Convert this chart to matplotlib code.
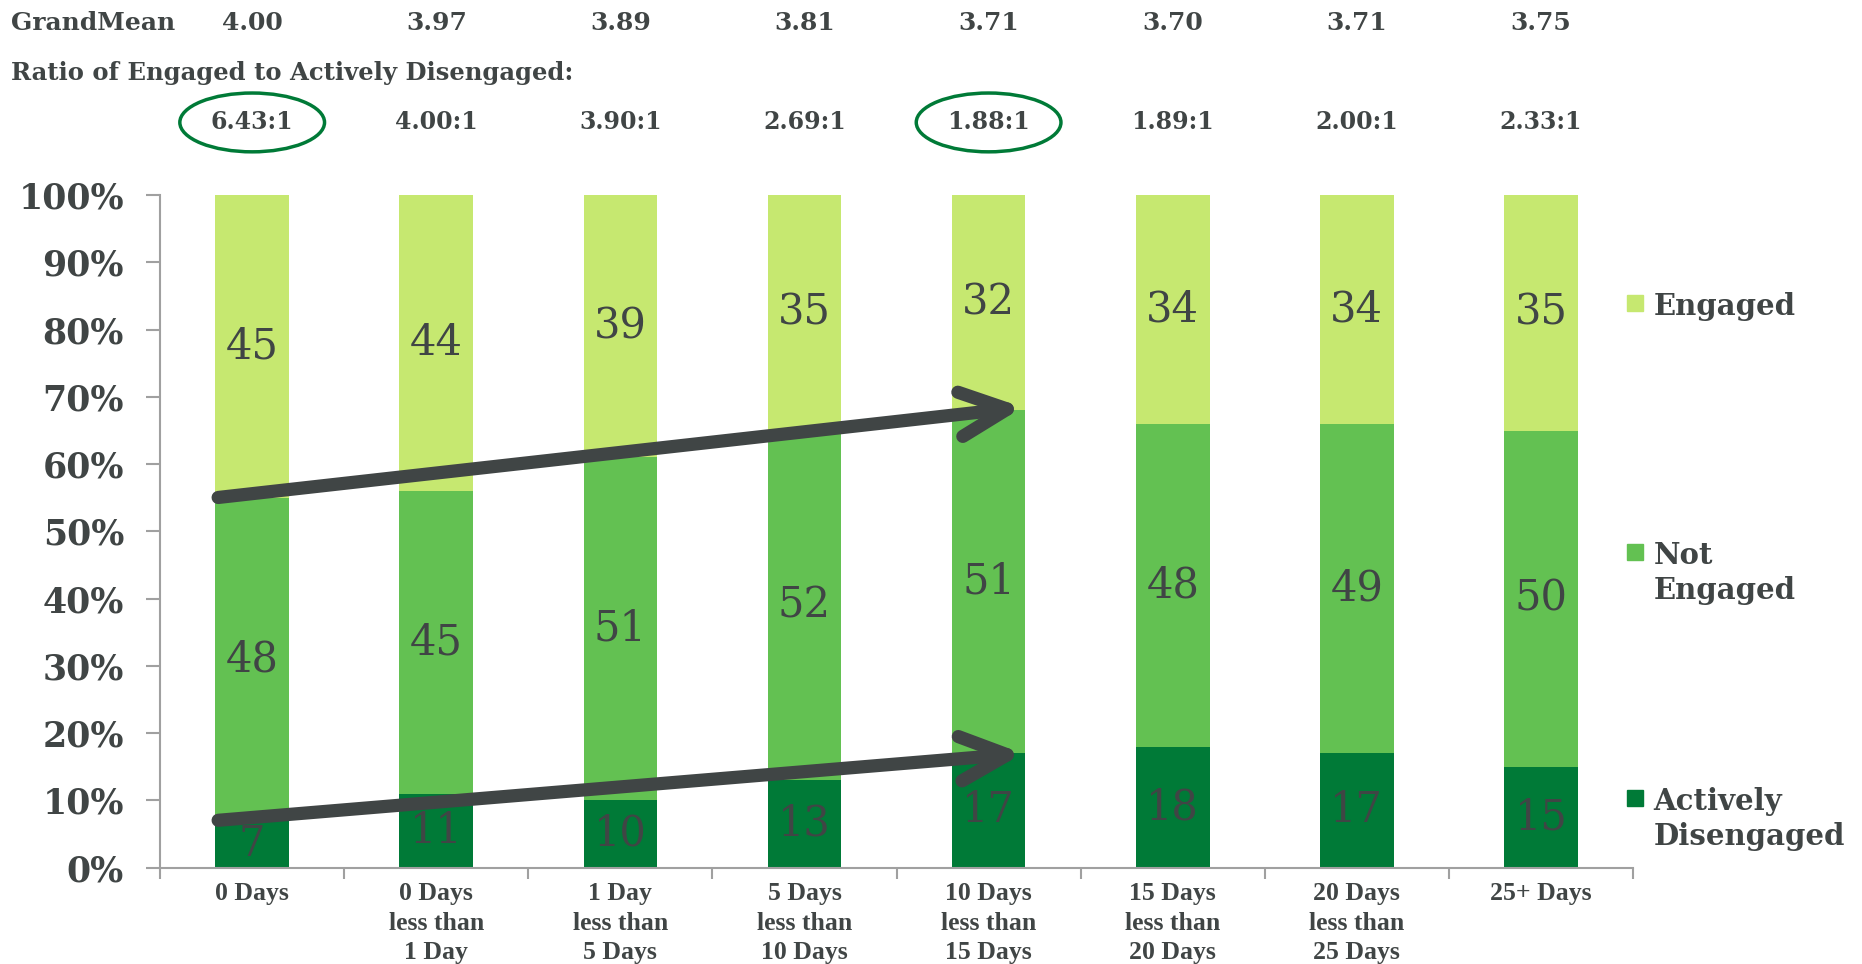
import matplotlib
matplotlib.use("Agg")
import matplotlib.pyplot as plt
from matplotlib.patches import Ellipse, Rectangle, FancyArrowPatch
from matplotlib.transforms import blended_transform_factory
import numpy as np

# data
categories = ['0 Days', '0 Days\nless than\n1 Day', '1 Day\nless than\n5 Days',
              '5 Days\nless than\n10 Days', '10 Days\nless than\n15 Days',
              '15 Days\nless than\n20 Days', '20 Days\nless than\n25 Days', '25+ Days']
actively_disengaged = [7, 11, 10, 13, 17, 18, 17, 15]
not_engaged = [48, 45, 51, 52, 51, 48, 49, 50]
engaged = [45, 44, 39, 35, 32, 34, 34, 35]
grand_mean = ['4.00', '3.97', '3.89', '3.81', '3.71', '3.70', '3.71', '3.75']
ratios = ['6.43:1', '4.00:1', '3.90:1', '2.69:1', '1.88:1', '1.89:1', '2.00:1', '2.33:1']
circled = [0, 4]
series_names = ['Engaged', 'Not\nEngaged', 'Actively\nDisengaged']

c_light = '#c6e870'
c_mid = '#63c152'
c_dark = '#007a37'
txt = '#404545'
serif = ['DejaVu Serif']

fig = plt.figure(figsize=(18.62, 9.64), dpi=100)
ax = fig.add_axes([0.086, 0.1, 0.791, 0.6975])

x = np.arange(len(categories))
w = 0.4
ad = np.array(actively_disengaged)
ne = np.array(not_engaged)
en = np.array(engaged)
b1 = ax.bar(x, ad, w, color=c_dark)
b2 = ax.bar(x, ne, w, bottom=ad, color=c_mid)
b3 = ax.bar(x, en, w, bottom=ad + ne, color=c_light)

for bars, vals in ((b1, ad), (b2, ne), (b3, en)):
    for r, v in zip(bars, vals):
        ax.text(r.get_x() + r.get_width() / 2, r.get_y() + r.get_height() / 2, str(v),
                ha='center', va='center', fontsize=30, color=txt, family=serif)

ax.set_xlim(-0.5, len(categories) - 0.5)
ax.set_ylim(0, 100)
ax.set_yticks(range(0, 101, 10))
ax.set_yticklabels([f'{v}%' for v in range(0, 101, 10)], fontsize=25,
                   fontweight='bold', color=txt, family=serif)
ax.set_xticks(x)
ax.set_xticklabels(categories, fontsize=18.5, fontweight='bold', color=txt,
                   family=['Liberation Serif'], linespacing=1.36)
ax.set_xticks(np.arange(len(categories) + 1) - 0.5, minor=True)
ax.tick_params(axis='x', which='major', length=0, pad=10.5)
ax.tick_params(axis='x', which='minor', length=8, color='#a0a0a0', width=1.5)
ax.tick_params(axis='y', length=10, color='#a0a0a0', width=1.5, pad=16)
for s in ['top', 'right']:
    ax.spines[s].set_visible(False)
for s in ['left', 'bottom']:
    ax.spines[s].set_color('#a0a0a0')
    ax.spines[s].set_linewidth(1.5)

# trend arrows
arrow_kw = dict(arrowstyle='->,head_length=3.4,head_width=1.6', mutation_scale=10,
                color=txt, lw=9.5, capstyle='round', joinstyle='round', zorder=5)
ax.add_patch(FancyArrowPatch((-0.2, 55), (4.2, 68.5), **arrow_kw))
ax.add_patch(FancyArrowPatch((-0.2, 7), (4.2, 17), **arrow_kw))

# header rows above the chart
tr = blended_transform_factory(ax.transData, fig.transFigure)
fig.text(0.006, 0.976, 'GrandMean', fontsize=18, fontweight='bold', color=txt,
         family=serif, va='center')
fig.text(0.006, 0.924, 'Ratio of Engaged to Actively Disengaged:', fontsize=17.5,
         fontweight='bold', color=txt, family=serif, va='center')
for i in range(len(categories)):
    ax.text(x[i], 0.976, grand_mean[i], transform=tr, ha='center', va='center',
            fontsize=18, fontweight='bold', color=txt, family=serif)
    ax.text(x[i], 0.873, ratios[i], transform=tr, ha='center', va='center',
            fontsize=17, fontweight='bold', color=txt, family=serif)
for i in circled:
    ax.add_patch(Ellipse((x[i], 0.873), 0.786, 0.061, transform=tr, fill=False,
                         edgecolor=c_dark, lw=2.5, clip_on=False))

# legend, spread out on the right
legend_mid = [0.6857, 0.4274, 0.1722]
legend_top = [0.697, 0.4388, 0.1836]
for name, col, ym, yt in zip(series_names, [c_light, c_mid, c_dark], legend_mid, legend_top):
    fig.add_artist(Rectangle((0.874, ym - 0.008), 0.0085, 0.0164,
                             transform=fig.transFigure, color=col))
    fig.text(0.888, yt, name, fontsize=21, fontweight='bold', color=txt,
             family=serif, va='top', ha='left', linespacing=1.25)

fig.savefig('out.png', dpi=100)
